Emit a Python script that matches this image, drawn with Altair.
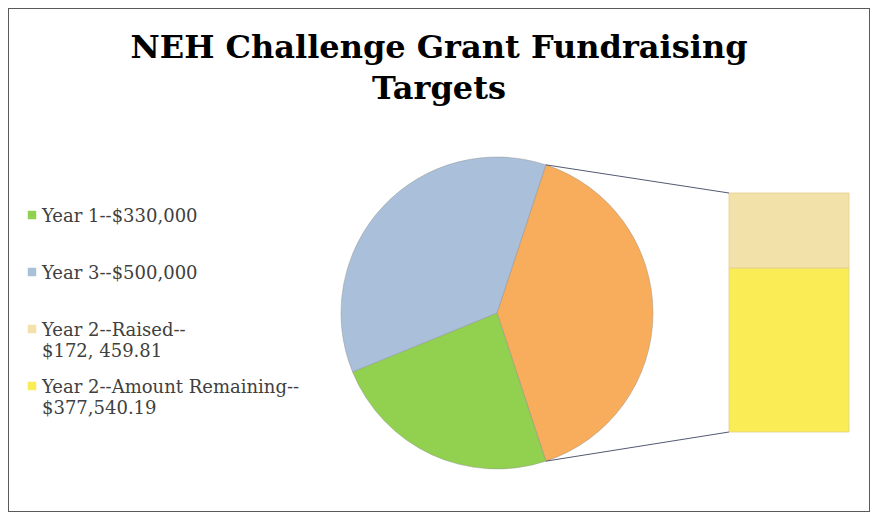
import math
import altair as alt
import pandas as pd

# ---------------- data ----------------
title_lines = ["NEH Challenge Grant Fundraising", "Targets"]

pie_names = ["Year 2", "Year 1", "Year 3"]          # clockwise from the split slice
pie_values = [550000, 330000, 500000]

bar_names = ["Year 2--Amount Remaining", "Year 2--Raised"]   # bottom to top
bar_values = [377540.19, 172459.81]

legend_names = ["Year 1", "Year 3", "Year 2--Raised", "Year 2--Amount Remaining"]
legend_texts = [
    "Year 1--$330,000",
    "Year 3--$500,000",
    "Year 2--Raised--|$172, 459.81",
    "Year 2--Amount Remaining--|$377,540.19",
]

color_domain = ["Year 1", "Year 3", "Year 2", "Year 2--Raised", "Year 2--Amount Remaining"]
color_range = ["#92d050", "#aabfd9", "#f8ad5c", "#f2e1a8", "#f9ec55"]

# ---------------- layout ----------------
W, H = 862, 504
CX, CY, R = 489, 305, 156
BAR_X0, BAR_X1, BAR_TOP, BAR_BOTTOM = 721, 841, 185, 424
SERIF = "DejaVu Serif"

color_scale = alt.Scale(domain=color_domain, range=color_range)

share = pie_values[0] / sum(pie_values)
start = math.pi / 2 - math.pi * share   # split slice centred on 3 o'clock

# ---------------- pie ----------------
pie_df = pd.DataFrame({"name": pie_names, "value": pie_values, "ord": list(range(len(pie_names)))})
pie = alt.Chart(pie_df).mark_arc(
    outerRadius=R, stroke="#8c8c8c", strokeWidth=0.6, strokeOpacity=0.7
).encode(
    theta=alt.Theta("value:Q", stack=True, scale=alt.Scale(range=[start, start + 2 * math.pi])),
    order=alt.Order("ord:Q"),
    color=alt.Color("name:N", scale=color_scale, legend=None),
    x=alt.value(CX),
    y=alt.value(CY),
)

# ---------------- bar ----------------
bar_df = pd.DataFrame({"name": bar_names, "value": bar_values, "ord": list(range(len(bar_names)))})
bar = alt.Chart(bar_df).transform_stack(
    stack="value", groupby=[], as_=["v0", "v1"], sort=[alt.SortField("ord", order="ascending")]
).mark_rect(stroke="#e2d18c", strokeWidth=0.8).encode(
    x=alt.value(BAR_X0),
    x2=alt.value(BAR_X1),
    y=alt.Y(
        "v0:Q",
        scale=alt.Scale(domain=[0, sum(bar_values)], range=[BAR_BOTTOM, BAR_TOP], nice=False, zero=True),
        axis=None,
    ),
    y2="v1:Q",
    color=alt.Color("name:N", scale=color_scale, legend=None),
)

# ---------------- connector lines ----------------
conn_df = pd.DataFrame({"edge": [0, 1]})
conn = alt.Chart(conn_df).transform_calculate(
    a=f"{start} + datum.edge * {2 * math.pi * share}",
).transform_calculate(
    px=f"{CX} + {R} * sin(datum.a)",
    py=f"{CY} - {R} * cos(datum.a)",
    bx=f"{BAR_X0}",
    by=f"{BAR_TOP} + datum.edge * {BAR_BOTTOM - BAR_TOP}",
).mark_rule(color="#525a72", strokeWidth=1).encode(
    x=alt.X("px:Q", scale=None),
    y=alt.Y("py:Q", scale=None),
    x2="bx:Q",
    y2="by:Q",
)

# ---------------- legend ----------------
leg_df = pd.DataFrame({"name": legend_names, "text": legend_texts, "i": list(range(len(legend_names)))})
leg_base = alt.Chart(leg_df).transform_calculate(
    lines="split(datum.text, '|')",
    sy="207 + datum.i * 57",
    ty="200 + datum.i * 57",
)
leg_sq = leg_base.mark_square(size=72, opacity=1).encode(
    x=alt.value(24),
    y=alt.Y("sy:Q", scale=None),
    color=alt.Color("name:N", scale=color_scale, legend=None),
)
leg_tx = leg_base.mark_text(
    align="left", baseline="top", font=SERIF, fontSize=18, lineHeight=21, color="#404040"
).encode(
    x=alt.value(34),
    y=alt.Y("ty:Q", scale=None),
    text=alt.Text("lines:N"),
)

# ---------------- title ----------------
title = alt.Chart(pd.DataFrame({"k": [0]})).mark_text(
    text=title_lines, align="center", baseline="top", font=SERIF, fontWeight="bold",
    fontSize=32, lineHeight=41, color="#000000",
).encode(x=alt.value(W / 2), y=alt.value(25))

chart = alt.layer(pie, bar, conn, leg_sq, leg_tx, title).resolve_scale(
    x="independent", y="independent"
).properties(
    width=W, height=H, padding=0, autosize=alt.AutoSizeParams(type="none"),
    background="#ffffff",
).configure_view(stroke="#5a5a5a", strokeWidth=2, fill="#ffffff")

chart.save("out.html", embed_options={"renderer": "svg", "actions": False})
